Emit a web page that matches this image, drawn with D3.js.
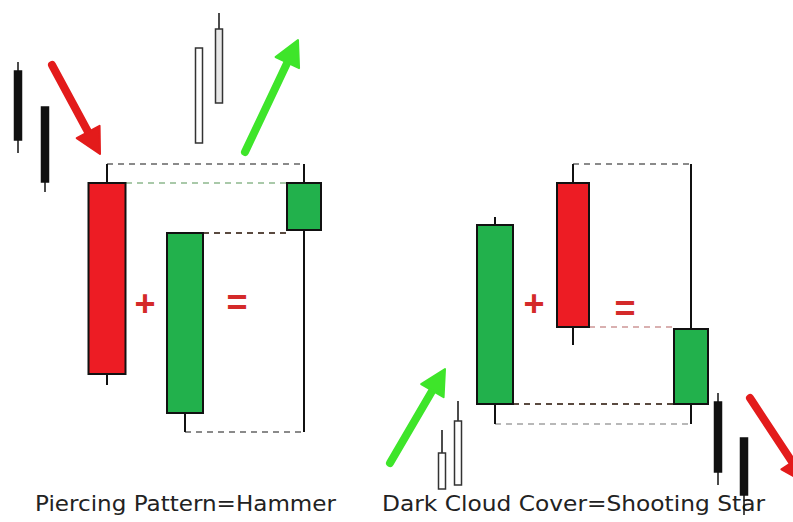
<!DOCTYPE html>
<html>
<head>
<meta charset="utf-8">
<script src="https://cdn.jsdelivr.net/npm/d3@7"></script>
<style>
  body { margin: 0; background: #fff; }
</style>
</head>
<body>
<script>
const width = 793;
const height = 522;

// candles: t = slot on the time axis, price values in arbitrary units
// kind: bull (green), bear (red), black (small trend), hollow (small trend)
const candles = [
  // Piercing Pattern = Hammer
  { t: 0.9,   open: 87.8, high: 89.6, low: 71.4, close: 74.0, kind: "black" },
  { t: 2.25,  open: 80.6, high: 80.6, low: 63.6, close: 65.6, kind: "black" },
  { t: 9.95,  open: 73.4, high: 92.4, low: 73.4, close: 92.4, kind: "hollow" },
  { t: 10.95, open: 81.4, high: 99.4, low: 81.4, close: 96.2, kind: "hollowGrey" },
  { t: 5.35,  open: 65.4, high: 69.2, low: 25.0, close: 27.2, kind: "bear" },
  { t: 9.25,  open: 19.4, high: 55.4, low: 15.6, close: 55.4, kind: "bull" },
  { t: 15.2,  open: 56.0, high: 69.2, low: 15.6, close: 65.4, kind: "bullSmall" },
  // Dark Cloud Cover = Shooting Star
  { t: 22.1,  open: 4.2,  high: 16.0, low: 4.2,  close: 11.4, kind: "hollow" },
  { t: 22.9,  open: 5.0,  high: 21.8, low: 5.0,  close: 17.8, kind: "hollow" },
  { t: 24.75, open: 21.2, high: 58.6, low: 17.2, close: 57.0, kind: "bull" },
  { t: 28.65, open: 65.4, high: 69.2, low: 33.0, close: 36.6, kind: "bearNarrow" },
  { t: 34.55, open: 21.2, high: 69.2, low: 17.2, close: 36.2, kind: "bullSmall" },
  { t: 35.9,  open: 21.6, high: 23.4, low: 5.0,  close: 7.6,  kind: "black" },
  { t: 37.2,  open: 14.4, high: 14.4, low: -1.0, close: 3.0,  kind: "black" }
];

// dashed guide lines between candles
const guides = [
  { t1: 5.35,  t2: 15.15, p: 69.2, tone: "grey" },
  { t1: 6.3,   t2: 14.35, p: 65.4, tone: "greenish" },
  { t1: 10.15, t2: 14.4,  p: 55.4, tone: "dark" },
  { t1: 9.25,  t2: 15.2,  p: 15.6, tone: "grey" },
  { t1: 28.65, t2: 34.55, p: 69.2, tone: "grey" },
  { t1: 29.45, t2: 33.7,  p: 36.6, tone: "reddish" },
  { t1: 25.65, t2: 33.7,  p: 21.2, tone: "dark" },
  { t1: 24.75, t2: 34.55, p: 17.2, tone: "light" }
];

const arrows = [
  { t1: 2.6,   p1: 89.0, t2: 5.0,   p2: 71.2, dir: "down" },
  { t1: 12.25, p1: 71.6, t2: 14.9,  p2: 94.0, dir: "up" },
  { t1: 19.5,  p1: 9.4,  t2: 22.25, p2: 28.2, dir: "up" },
  { t1: 37.5,  p1: 22.4, t2: 40.3,  p2: 5.4,  dir: "down" }
];

const signs = [
  { t: 7.25,  p: 41.4, s: "+" },
  { t: 11.85, p: 41.6, s: "=" },
  { t: 26.7,  p: 41.4, s: "+" },
  { t: 31.25, p: 40.4, s: "=" }
];

const labels = [
  { t: 9.275,  text: "Piercing Pattern=Hammer" },
  { t: 28.675, text: "Dark Cloud Cover=Shooting Star" }
];

const x = d3.scaleLinear().domain([0, 40]).range([0, 800]);
const y = d3.scaleLinear().domain([0, 100]).range([510, 10]);

const bodyWidth = { bull: 36, bear: 37, bearNarrow: 32, bullSmall: 34, black: 7, hollow: 7, hollowGrey: 7 };
const bodyFill = {
  bull: "#22b14c", bullSmall: "#22b14c", bear: "#ed1c24", bearNarrow: "#ed1c24",
  black: "#111", hollow: "#fff", hollowGrey: "#e8e8e8"
};
const guideColor = { grey: "#8a8a8a", greenish: "#a9c9a9", dark: "#5a4a40", reddish: "#d9b0b0", light: "#b8b8b8" };
const labelWidth = [301, 383];

const svg = d3.select("body").append("svg")
  .attr("width", width)
  .attr("height", height)
  .style("background", "#fff");

// captions first, the last black candle sits on top of them
svg.append("g").selectAll("text")
  .data(labels)
  .join("text")
  .attr("x", d => x(d.t))
  .attr("y", 511)
  .attr("text-anchor", "middle")
  .attr("font-family", "DejaVu Sans, sans-serif")
  .attr("font-size", 21)
  .attr("textLength", (d, i) => labelWidth[i])
  .attr("lengthAdjust", "spacingAndGlyphs")
  .attr("fill", "#222")
  .text(d => d.text);

// guides under candles
svg.append("g").selectAll("line")
  .data(guides)
  .join("line")
  .attr("x1", d => x(d.t1))
  .attr("x2", d => x(d.t2))
  .attr("y1", d => y(d.p))
  .attr("y2", d => y(d.p))
  .attr("stroke", d => guideColor[d.tone])
  .attr("stroke-width", 2)
  .attr("stroke-dasharray", "6,5");

const cg = svg.append("g").selectAll("g")
  .data(candles)
  .join("g");

cg.append("line")
  .attr("x1", d => x(d.t))
  .attr("x2", d => x(d.t))
  .attr("y1", d => y(d.high))
  .attr("y2", d => y(d.low))
  .attr("stroke", "#111")
  .attr("stroke-width", d => bodyWidth[d.kind] > 10 ? 2 : 1.5);

cg.append("rect")
  .attr("x", d => x(d.t) - bodyWidth[d.kind] / 2)
  .attr("width", d => bodyWidth[d.kind])
  .attr("y", d => y(Math.max(d.open, d.close)))
  .attr("height", d => Math.abs(y(d.open) - y(d.close)))
  .attr("fill", d => bodyFill[d.kind])
  .attr("stroke", d => d.kind.startsWith("hollow") ? "#333" : "#111")
  .attr("stroke-width", d => bodyWidth[d.kind] > 10 ? 2 : 1.5);

// trend arrows
const ag = svg.append("g").selectAll("g")
  .data(arrows)
  .join("g");

function arrowGeom(d) {
  const x1 = x(d.t1), y1 = y(d.p1), x2 = x(d.t2), y2 = y(d.p2);
  const ang = Math.atan2(y2 - y1, x2 - x1);
  const headLen = 25, headHalf = 13;
  const bx = x2 - headLen * Math.cos(ang), by = y2 - headLen * Math.sin(ang);
  const nx = -Math.sin(ang), ny = Math.cos(ang);
  return { x1, y1, bx, by, head: [[x2, y2], [bx + nx * headHalf, by + ny * headHalf], [bx - nx * headHalf, by - ny * headHalf]] };
}

ag.append("line")
  .attr("x1", d => arrowGeom(d).x1)
  .attr("y1", d => arrowGeom(d).y1)
  .attr("x2", d => arrowGeom(d).bx)
  .attr("y2", d => arrowGeom(d).by)
  .attr("stroke", d => d.dir === "up" ? "#3ee52a" : "#e31b1b")
  .attr("stroke-width", 8)
  .attr("stroke-linecap", "round");

ag.append("path")
  .attr("d", d => "M" + arrowGeom(d).head.join("L") + "Z")
  .attr("fill", d => d.dir === "up" ? "#3ee52a" : "#e31b1b")
  .attr("stroke", d => d.dir === "up" ? "#3ee52a" : "#e31b1b")
  .attr("stroke-linejoin", "round")
  .attr("stroke-width", 2);

svg.append("g").selectAll("text")
  .data(signs)
  .join("text")
  .attr("x", d => x(d.t))
  .attr("y", d => y(d.p))
  .attr("text-anchor", "middle")
  .attr("dominant-baseline", "central")
  .attr("font-family", "Liberation Sans, Arial, sans-serif")
  .attr("font-weight", "bold")
  .attr("font-size", 36)
  .attr("fill", "#d42a2a")
  .text(d => d.s);
</script>
</body>
</html>
